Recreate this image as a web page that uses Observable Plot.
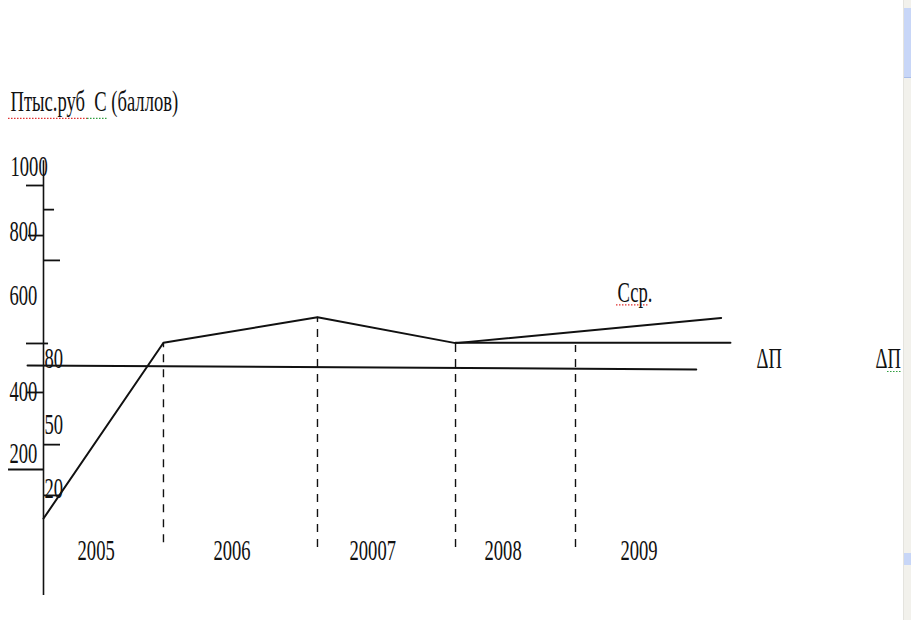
<!DOCTYPE html>
<html>
<head>
<meta charset="utf-8">
<script src="https://cdn.jsdelivr.net/npm/d3@7"></script>
<script src="https://cdn.jsdelivr.net/npm/@observablehq/plot@0.6"></script>
<style>
  html, body { margin: 0; padding: 0; background: #fff; overflow: hidden; }
  #chart svg { display: block; }
  #chart svg text { font-family: "Liberation Serif", "Times New Roman", "DejaVu Serif", serif !important; }
  #scroll { position: absolute; left: 903px; top: 0; width: 8px; height: 620px; background: #f2f1ec; border-left: 1px solid #e4e3de; }
  #thumb { position: absolute; left: 0; top: 8px; width: 8px; height: 69px; background: #c8d6f7; border-bottom: 1px solid #a9bde8; }
  #arrow { position: absolute; left: 0; top: 553px; width: 8px; height: 12px; background: #c8d6f7; }
</style>
</head>
<body>
<div id="chart"></div>
<div id="scroll"><div id="thumb"></div><div id="arrow"></div></div>
<script>
// Title (units) label
const titleText = "Птыс.руб  С (баллов)";
const titleX = 2004.752, titleY = 1211;

// Left scale labels (тыс.руб)
const leftLabels = ["1000", "800", "600", "400", "200"];
const leftLabelX = [2004.752, 2004.744, 2004.744, 2004.744, 2004.744];
const leftLabelY = [1028, 845, 662, 394, 217];

// Right scale labels (баллов)
const rightLabels = ["80", "50", "20"];
const rightLabelX = [2005.008, 2005.008, 2005.008];
const rightLabelY = [485, 301, 121];

// Year labels
const yearLabels = ["2005", "2006", "20007", "2008", "2009"];
const yearLabelX = [2005.256, 2006.278, 2007.301, 2008.316, 2009.338];
const yearLabelY = [-56, -56, -56, -56, -56];

// Series С (Сср.)
const cYears = [2005, 2005.902, 2007.060, 2008.098, 2010.095];
const cValues = [62, 557, 629, 556, 627];

// Level line from 2008
const flatYears = [2008.098, 2010.165];
const flatValues = [557, 557];

// ΔП line
const dpYears = [2004.880, 2009.908];
const dpValues = [493, 482];

// Year dividers (dashed)
const dividerYears = [2005.902, 2007.060, 2008.098, 2009.0];
const dividerTops = [557, 629, 556, 549];
const dividerBottoms = [-6, -20, -20, -20];

// Axis ticks
const tickValues = [1000, 932, 859, 789, 555, 417, 270, 200, 127];
const tickFrom = [2004.872, 2005, 2004.887, 2005, 2004.872, 2004.880, 2005, 2004.737, 2005];
const tickTo = [2005, 2005.083, 2005, 2005.128, 2005.038, 2005, 2005.128, 2005, 2005.128];

// Axis extent
const axisYear = 2005, axisBottom = -155, axisTop = 1070;

// Other labels
const noteLabels = ["Сср.", "ΔП", "ΔП"];
const noteX = [2009.316, 2010.361, 2011.256];
const noteY = [673, 485, 485];

// Spell-check squiggles under words
const squiggleX1 = [2004.737, 2005.331, 2009.308, 2011.346];
const squiggleX2 = [2005.331, 2005.489, 2009.549, 2011.459];
const squiggleY = [1189, 1189, 664, 476];
const squiggleColor = ["#e03030", "#2e9e3e", "#e03030", "#2e9e3e"];

const cData = cYears.map((x, i) => ({x, y: cValues[i]}));
const flatData = flatYears.map((x, i) => ({x, y: flatValues[i]}));
const dpData = dpYears.map((x, i) => ({x, y: dpValues[i]}));
const dividers = dividerYears.map((x, i) => ({x, y1: dividerBottoms[i], y2: dividerTops[i]}));
const ticks = tickValues.map((y, i) => ({y, x1: tickFrom[i], x2: tickTo[i]}));
const squiggles = squiggleX1.map((x1, i) => ({x1, x2: squiggleX2[i], y: squiggleY[i], c: squiggleColor[i]}));
const texts = [
  {t: titleText, x: titleX, y: titleY},
  ...leftLabels.map((t, i) => ({t, x: leftLabelX[i], y: leftLabelY[i]})),
  ...rightLabels.map((t, i) => ({t, x: rightLabelX[i], y: rightLabelY[i]})),
  ...yearLabels.map((t, i) => ({t, x: yearLabelX[i], y: yearLabelY[i]})),
  ...noteLabels.map((t, i) => ({t, x: noteX[i], y: noteY[i]}))
];

const ink = "#111";
const chart = Plot.plot({
  width: 911,
  height: 620,
  margin: 0,
  style: {background: "#fff", fontFamily: "Liberation Serif, serif"},
  x: {domain: [2004.6767, 2011.5263], axis: null},
  y: {domain: [-225.35, 1521.13], axis: null},
  marks: [
    Plot.ruleY(squiggles, {y: "y", x1: "x1", x2: "x2", stroke: "c", strokeWidth: 1.2, strokeDasharray: "1.5,1.5"}),
    Plot.ruleX([axisYear], {y1: axisBottom, y2: axisTop, stroke: ink, strokeWidth: 1.6}),
    Plot.ruleY(ticks, {y: "y", x1: "x1", x2: "x2", stroke: ink, strokeWidth: 1.8}),
    Plot.ruleX(dividers, {x: "x", y1: "y1", y2: "y2", stroke: ink, strokeWidth: 1.4, strokeDasharray: "8,7"}),
    Plot.line(dpData, {x: "x", y: "y", stroke: ink, strokeWidth: 2}),
    Plot.line(flatData, {x: "x", y: "y", stroke: ink, strokeWidth: 2}),
    Plot.line(cData, {x: "x", y: "y", stroke: ink, strokeWidth: 2}),
    Plot.text(texts, {x: "x", y: "y", text: "t", textAnchor: "start", lineAnchor: "bottom",
      fontSize: 30, fontFamily: "Liberation Serif", fill: ink})
  ]
});
chart.querySelectorAll("text").forEach(t => {
  t.setAttribute("transform", (t.getAttribute("transform") || "") + " scale(0.62,1)");
  t.style.fontFamily = '"Liberation Serif", "Times New Roman", serif';
});
document.getElementById("chart").appendChild(chart);
</script>
</body>
</html>
